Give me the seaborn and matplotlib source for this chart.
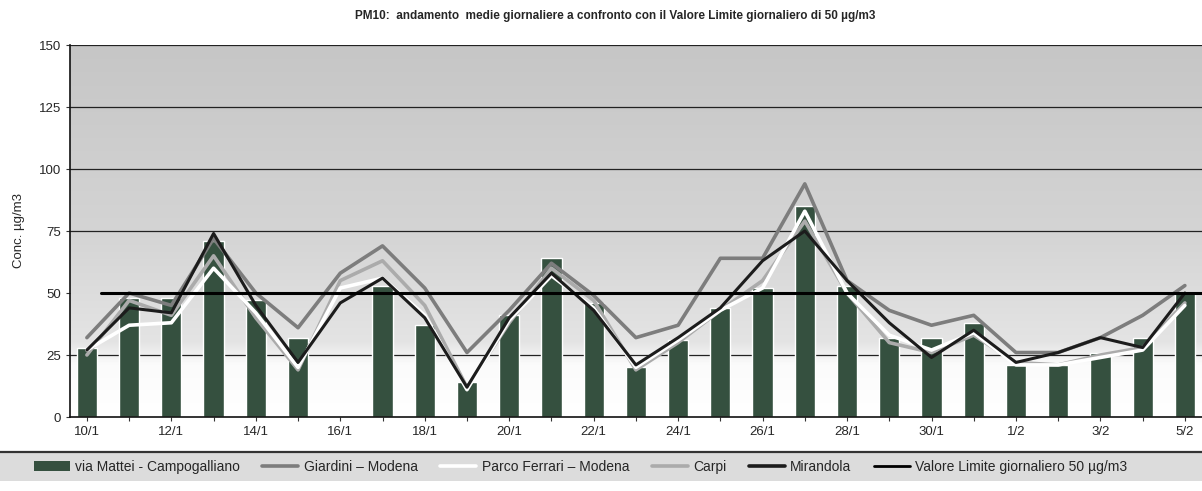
import numpy as np
import pandas as pd
import matplotlib
matplotlib.use("Agg")
import matplotlib.pyplot as plt
from matplotlib.lines import Line2D
from matplotlib.patches import Rectangle, Patch
import seaborn as sns

# Daily PM10 averages (µg/m3)
days = ["10/1", "11/1", "12/1", "13/1", "14/1", "15/1", "16/1", "17/1", "18/1", "19/1",
        "20/1", "21/1", "22/1", "23/1", "24/1", "25/1", "26/1", "27/1", "28/1", "29/1",
        "30/1", "31/1", "1/2", "2/2", "3/2", "4/2", "5/2"]
campogalliano = [28, 48, 48, 71, 47, 32, np.nan, 53, 37, 14, 41, 64, 46, 20, 31, 44, 52, 85,
                 53, 32, 32, 38, 21, 21, 26, 32, 50]
giardini = [32, 50, 45, 72, 50, 36, 58, 69, 52, 26, 43, 62, 49, 32, 37, 64, 64, 94,
            55, 43, 37, 41, 26, 26, 32, 41, 53]
parco_ferrari = [27, 37, 38, 60, 42, 20, 52, 56, 41, 11, 39, 57, 44, 20, 31, 43, 52, 83,
                 50, 33, 27, 34, 21, 21, 24, 27, 45]
carpi = [25, 47, 41, 65, 40, 19, 55, 63, 45, 12, 38, 60, 47, 19, 30, 43, 55, 79,
         50, 30, 26, 33, 22, 21, 25, 28, 46]
mirandola = [27, 44, 42, 74, 45, 22, 46, 56, 40, 12, 40, 58, 43, 21, 32, 44, 63, 75,
             55, 38, 24, 35, 22, 26, 32, 28, 50]
limite = 50

df = pd.DataFrame({"giorno": days, "campogalliano": campogalliano})
x = np.arange(len(days))

sns.set_style("white")
plt.rcParams["font.family"] = ["Liberation Sans", "DejaVu Sans"]

fig = plt.figure(figsize=(12.02, 4.91), dpi=100)
ax = fig.add_axes([70 / 1202, 74 / 491, 1136 / 1202, 372 / 491])

# gray-to-white background like the original plot area
grad = np.linspace(0, 1, 256).reshape(-1, 1)
cmap = matplotlib.colors.LinearSegmentedColormap.from_list(
    "bg", [(0, "#ffffff"), (0.14, "#fbfbfb"), (0.2, "#e4e4e4"), (0.5, "#d4d4d4"), (1, "#c6c6c6")])
ax.imshow(grad, aspect="auto", cmap=cmap, origin="lower",
          extent=[-0.4, 26.5, 0, 150], zorder=0)

# horizontal grid lines
for v in [25, 75, 100, 125, 150]:
    ax.axhline(v, color="#222222", lw=0.9, zorder=1)

sns.barplot(data=df, x="giorno", y="campogalliano", color="#35503f", width=0.48,
            saturation=1, ax=ax, zorder=2)

sns.lineplot(x=x, y=giardini, color="#7d7d7d", lw=2.6, ax=ax, zorder=3)
sns.lineplot(x=x, y=carpi, color="#ababab", lw=2.6, ax=ax, zorder=3)
sns.lineplot(x=x, y=parco_ferrari, color="#ffffff", lw=2.6, ax=ax, zorder=4)
sns.lineplot(x=x, y=mirandola, color="#1c1c1c", lw=2.2, ax=ax, zorder=5)
ax.axhline(limite, xmin=0.027, color="#000000", lw=2.2, zorder=6)

ax.set_xlim(-0.4, 26.5)
ax.set_ylim(0, 150)
ax.set_yticks([0, 25, 50, 75, 100, 125, 150])
ax.set_xticks(x)
ax.set_xticklabels([d if i % 2 == 0 else "" for i, d in enumerate(days)])
ax.tick_params(axis="both", labelsize=9.5, length=3, color="#333333", direction="out",
               left=True, bottom=True)
ax.set_xlabel("")
ax.set_ylabel("Conc. µg/m3", fontsize=9.5, labelpad=10)
for s in ["top", "right"]:
    ax.spines[s].set_visible(False)
for s in ["left", "bottom"]:
    ax.spines[s].set_color("#111111")
    ax.spines[s].set_linewidth(1.2)

fig.text(0.512, 0.968, "PM10:  andamento  medie giornaliere a confronto con il Valore Limite giornaliero di 50 µg/m3",
         ha="center", va="center", fontsize=8.5, fontweight="bold",
         family=["Liberation Sans Narrow", "Liberation Sans", "DejaVu Sans"])

# legend strip at the bottom
fig.add_artist(Rectangle((0, 10 / 491), 1, 29 / 491, transform=fig.transFigure,
                         facecolor="#dcdcdc", edgecolor="none", zorder=0))
fig.add_artist(Line2D([0, 1], [39 / 491, 39 / 491], transform=fig.transFigure,
                      color="#333333", lw=1.6))

handles = [
    Patch(facecolor="#35503f", edgecolor="none"),
    Line2D([], [], color="#7d7d7d", lw=2.6),
    Line2D([], [], color="#ffffff", lw=2.6),
    Line2D([], [], color="#ababab", lw=2.6),
    Line2D([], [], color="#1c1c1c", lw=2.6),
    Line2D([], [], color="#000000", lw=2),
]
labels = ["via Mattei - Campogalliano", "Giardini – Modena", "Parco Ferrari – Modena",
          "Carpi", "Mirandola", "Valore Limite giornaliero 50 µg/m3"]
fig.legend(handles, labels, loc="center", bbox_to_anchor=(0.483, 24 / 491), ncol=6,
           frameon=False, fontsize=10, handlelength=2.6, handleheight=0.7,
           columnspacing=1.6, handletextpad=0.4)

fig.savefig("out.png", dpi=100)
